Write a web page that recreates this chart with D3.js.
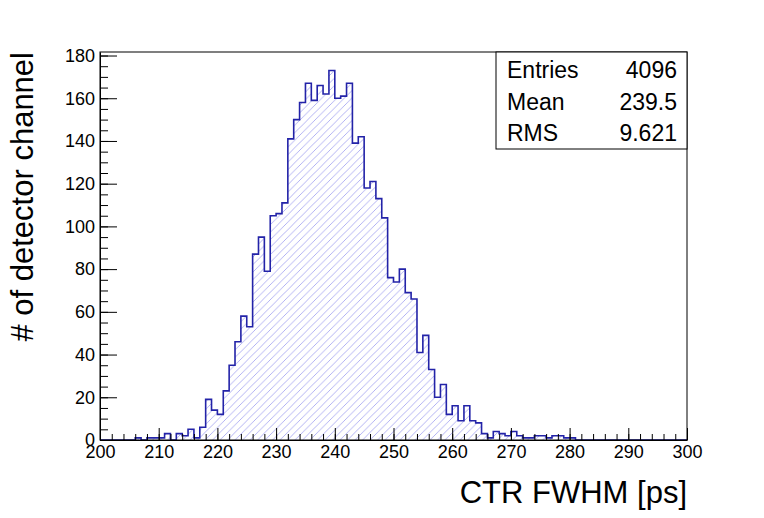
<!DOCTYPE html>
<html>
<head>
<meta charset="utf-8">
<script src="https://cdn.jsdelivr.net/npm/d3@7"></script>
<style>
  body { margin: 0; background: #fff; }
  text { font-family: "Liberation Sans", Arial, sans-serif; }
</style>
</head>
<body>
<svg id="chart" width="764" height="518"></svg>
<script>
// bin low edges (1 ps wide) and contents
const binLow = d3.range(200, 300);
const counts = [
  0, 0, 0, 0, 0, 0, 1, 0, 1, 1,
  1, 3, 0, 3, 2, 5, 1, 6, 19, 14,
  12, 23, 35, 46, 58, 53, 87, 95, 79, 105,
  106, 111, 141, 150, 158, 167, 159, 166, 162, 173,
  160, 161, 167, 139, 142, 118, 121, 113, 104, 76,
  74, 80, 69, 66, 41, 49, 33, 20, 26, 12,
  16, 9, 16, 9, 8, 3, 1, 4, 3, 2,
  4, 2, 1, 1, 2, 2, 1, 2, 2, 1,
  1, 0, 0, 0, 0, 0, 0, 0, 0, 0,
  0, 0, 0, 0, 0, 0, 0, 0, 0, 0
];
const xMajor = d3.range(200, 301, 10);
const xMinor = d3.range(200, 301, 2);
const yMajor = d3.range(0, 181, 20);
const yMinor = d3.range(0, 181, 5);
const statLabels = ['Entries', 'Mean', 'RMS'];
const statValues = ['4096', '239.5', '9.621'];

const svg = d3.select('#chart');
const padL = 100, padR = 687, padT = 52, padB = 440;

const x = d3.scaleLinear().domain([200, 300]).range([padL, padR]);
const y = d3.scaleLinear().domain([0, d3.max(counts) * 1.05]).range([padB, padT]);

// hatch fill like ROOT style 3004
const defs = svg.append('defs');
defs.append('pattern')
  .attr('id', 'hatch')
  .attr('patternUnits', 'userSpaceOnUse')
  .attr('width', 7.5)
  .attr('height', 7.5)
  .append('path')
  .attr('d', 'M-1,1 L1,-1 M0,7.5 L7.5,0 M6.5,8.5 L8.5,6.5')
  .attr('stroke', '#a0a0f0')
  .attr('stroke-width', 0.8);

// step outline of the histogram
const pts = [[200, 0]];
counts.forEach((c, i) => {
  pts.push([binLow[i], c]);
  pts.push([binLow[i] + 1, c]);
});
pts.push([300, 0]);

const line = d3.line().x((d) => x(d[0])).y((d) => y(d[1]));

svg.append('path')
  .datum(pts)
  .attr('fill', 'url(#hatch)')
  .attr('stroke', '#2323a8')
  .attr('stroke-width', 1.6)
  .attr('stroke-linejoin', 'miter')
  .attr('d', line);

// frame
svg.append('rect')
  .attr('x', padL)
  .attr('y', padT)
  .attr('width', padR - padL)
  .attr('height', padB - padT)
  .attr('fill', 'none')
  .attr('stroke', '#000')
  .attr('stroke-width', 1);

// x axis: minor then major ticks pointing inward
svg.append('g')
  .attr('transform', `translate(0,${padB})`)
  .call(d3.axisBottom(x).tickValues(xMinor).tickSizeInner(-6).tickSizeOuter(0).tickFormat(''))
  .call((g) => g.select('.domain').remove());

svg.append('g')
  .attr('class', 'xaxis')
  .attr('transform', `translate(0,${padB})`)
  .call(d3.axisBottom(x).tickValues(xMajor).tickSizeInner(-12).tickSizeOuter(0).tickPadding(5).tickFormat(d3.format('d')))
  .call((g) => g.select('.domain').attr('stroke', '#000'));

// y axis
svg.append('g')
  .attr('transform', `translate(${padL},0)`)
  .call(d3.axisLeft(y).tickValues(yMinor).tickSizeInner(-8).tickSizeOuter(0).tickFormat(''))
  .call((g) => g.select('.domain').remove());

svg.append('g')
  .attr('class', 'yaxis')
  .attr('transform', `translate(${padL},0)`)
  .call(d3.axisLeft(y).tickValues(yMajor).tickSizeInner(-17).tickSizeOuter(0).tickPadding(5).tickFormat(d3.format('d')))
  .call((g) => g.select('.domain').attr('stroke', '#000'));

svg.selectAll('.tick line').attr('stroke', '#000');
svg.selectAll('.xaxis text, .yaxis text')
  .style('font-size', '18px')
  .style('font-family', '"Liberation Sans", Arial, sans-serif')
  .attr('fill', '#000');

// axis titles
svg.append('text')
  .attr('x', padR)
  .attr('y', 503)
  .attr('text-anchor', 'end')
  .style('font-size', '31px')
  .text('CTR FWHM [ps]');

svg.append('text')
  .attr('transform', `translate(33,${padT}) rotate(-90)`)
  .attr('text-anchor', 'end')
  .style('font-size', '31px')
  .text('# of detector channel');

// stats box
const box = svg.append('g');
box.append('rect')
  .attr('x', 496)
  .attr('y', padT)
  .attr('width', padR - 496)
  .attr('height', 97)
  .attr('fill', '#fff')
  .attr('stroke', '#000')
  .attr('stroke-width', 1);

statLabels.forEach((lab, i) => {
  box.append('text')
    .attr('x', 507)
    .attr('y', 78 + i * 31.7)
    .style('font-size', '23px')
    .text(lab);
  box.append('text')
    .attr('x', 677)
    .attr('y', 78 + i * 31.7)
    .attr('text-anchor', 'end')
    .style('font-size', '23px')
    .text(statValues[i]);
});
</script>
</body>
</html>
